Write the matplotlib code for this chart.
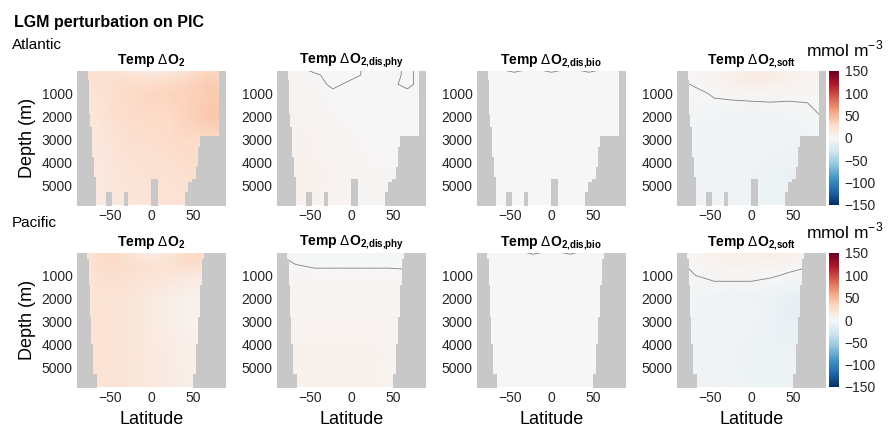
import numpy as np
import matplotlib
matplotlib.use("Agg")
import matplotlib.pyplot as plt

plt.rcParams["font.family"] = ["Liberation Sans", "DejaVu Sans"]
plt.rcParams["mathtext.fontset"] = "custom"
plt.rcParams["mathtext.rm"] = "Liberation Sans"
plt.rcParams["mathtext.bf"] = "Liberation Sans:bold"

# coarse section grid
lats = [-90, -67.5, -45, -22.5, 0, 22.5, 45, 67.5, 90]
depths = [0, 200, 600, 1000, 2000, 3000, 4500, 6000]

# Atlantic, mmol m-3, rows = depths, cols = lats
atl_temp = [[20, 22, 18, 12, 10, 12, 22, 32, 28],
            [20, 24, 24, 20, 18, 22, 28, 35, 32],
            [20, 22, 25, 27, 28, 30, 33, 38, 36],
            [18, 20, 25, 30, 32, 33, 35, 38, 38],
            [16, 18, 24, 28, 30, 30, 34, 40, 42],
            [15, 16, 20, 25, 25, 28, 30, 30, 30],
            [12, 14, 18, 20, 22, 22, 25, 25, 25],
            [12, 12, 15, 18, 20, 20, 20, 20, 20]]
atl_phy = [[3, 2, -1, -2, -1, 1, 2, -1, 2],
           [3, 3, 1, -2, -1, 1, 2, -1, 2],
           [4, 3, 2, -1, 1, 1, 1, -1, 2],
           [4, 4, 2, 1, 1, 1, 1, 1, 2],
           [5, 4, 3, 2, 1, 1, 1, 1, 1],
           [6, 5, 4, 3, 2, 1, 1, 1, 1],
           [6, 6, 5, 4, 3, 2, 2, 1, 1],
           [6, 6, 5, 4, 3, 2, 2, 2, 2]]
atl_bio = [[0, 0.2, -0.2, 0.2, -0.2, 0.2, -0.2, 0.2, -0.2],
           [0.3, 0.3, 0.3, 0.3, 0.3, 0.3, 0.3, 0.3, 0.3],
           [0.3, 0.3, 0.3, 0.3, 0.3, 0.3, 0.3, 0.3, 0.3],
           [0.3, 0.3, 0.3, 0.3, 0.3, 0.3, 0.3, 0.3, 0.3],
           [0.3, 0.3, 0.3, 0.3, 0.3, 0.3, 0.3, 0.3, 0.3],
           [0.3, 0.3, 0.3, 0.3, 0.3, 0.3, 0.3, 0.3, 0.3],
           [0.3, 0.3, 0.3, 0.3, 0.3, 0.3, 0.3, 0.3, 0.3],
           [0.3, 0.3, 0.3, 0.3, 0.3, 0.3, 0.3, 0.3, 0.3]]
atl_soft = [[0, 2, 3, 6, 10, 10, 6, 4, 3],
            [0, 2, 4, 8, 14, 12, 8, 4, 3],
            [-2, 1, 3, 6, 10, 8, 5, 3, 2],
            [-3, -2, 1, 2, 3, 3, 2, 2, 1],
            [-4, -4, -4, -5, -6, -5, -4, -3, 1],
            [-4, -5, -6, -7, -7, -6, -6, -4, -3],
            [-4, -5, -6, -7, -7, -8, -10, -6, -4],
            [-4, -5, -6, -7, -7, -8, -8, -6, -4]]

# Pacific
pac_temp = [[15, 25, 30, 18, 8, 15, 30, 30, 20],
            [15, 25, 30, 22, 15, 20, 30, 28, 20],
            [15, 24, 27, 25, 22, 22, 26, 22, 20],
            [15, 22, 25, 22, 20, 18, 16, 14, 14],
            [15, 20, 20, 18, 14, 10, 6, 5, 5],
            [15, 20, 20, 18, 14, 10, 7, 5, 5],
            [15, 20, 20, 18, 15, 12, 9, 8, 8],
            [15, 20, 20, 18, 15, 12, 10, 8, 8]]
pac_phy = [[1, -2, -3, -3, -3, -3, -3, -2, 1],
           [1, -2, -3, -3, -3, -3, -3, -2, 1],
           [2, 0.5, -0.5, -0.5, -0.5, -0.5, -0.5, -0.5, 1],
           [3, 2, 2, 2, 2, 2, 2, 1, 1],
           [4, 3, 3, 3, 3, 3, 3, 3, 2],
           [5, 4, 4, 4, 4, 4, 4, 3, 3],
           [5, 5, 5, 5, 5, 5, 4, 4, 4],
           [5, 5, 5, 5, 5, 5, 4, 4, 4]]
pac_bio = [[0.3, 0.3, 0.3, -0.2, 0.2, -0.2, 0.3, 0.3, 0.3],
           [0.3, 0.3, 0.3, 0.3, 0.3, 0.3, 0.3, 0.3, 0.3],
           [0.3, 0.3, 0.3, 0.3, 0.3, 0.3, 0.3, 0.3, 0.3],
           [0.3, 0.3, 0.3, 0.3, 0.3, 0.3, 0.3, 0.3, 0.3],
           [0.3, 0.3, 0.3, 0.3, 0.3, 0.3, 0.3, 0.3, 0.3],
           [0.3, 0.3, 0.3, 0.3, 0.3, 0.3, 0.3, 0.3, 0.3],
           [0.3, 0.3, 0.3, 0.3, 0.3, 0.3, 0.3, 0.3, 0.3],
           [0.3, 0.3, 0.3, 0.3, 0.3, 0.3, 0.3, 0.3, 0.3]]
pac_soft = [[2, 3, 5, 7, 10, 10, 7, 5, 3],
            [2, 3, 5, 7, 9, 9, 6, 4, 3],
            [-1, 1, 3, 4, 5, 4, 2, 0.5, 0.5],
            [-3, 0, 2, 2, 2, 1, -1, -3, -3],
            [-4, -5, -6, -6, -6, -8, -12, -14, -10],
            [-4, -5, -6, -7, -7, -9, -12, -12, -10],
            [-4, -5, -6, -7, -8, -8, -9, -9, -8],
            [-4, -5, -6, -7, -8, -8, -8, -8, -8]]

# bathymetry: ocean bottom depth for each latitude band (band starts at edge)
atl_edges = [-90, -77, -76, -74, -72, -70, -67, -54.6, -47.8, -33.8, -28.5,
             -0.8, 8.4, 40.6, 44.6, 48.6, 53.8, 56, 58.7, 81.5, 90]
atl_bottom = [0, 425, 1870, 2450, 3750, 4620, 6000, 5250, 6000, 5250, 6000,
              4700, 6000, 5250, 4850, 4700, 4190, 3300, 2855, 0, 0]
pac_edges = [-90, -78, -76, -74.5, -72.5, -70.5, -66, 50.5, 53.5, 56, 58,
             61.5, 64, 90]
pac_bottom = [0, 265, 1420, 2795, 3950, 5250, 6000, 5250, 3950, 2795, 1420,
              265, 0, 0]

titles = [r"Temp $\Delta$O$_{\mathbf{2}}$",
          r"Temp $\Delta$O$_{\mathbf{2{,}dis{,}phy}}$",
          r"Temp $\Delta$O$_{\mathbf{2{,}dis{,}bio}}$",
          r"Temp $\Delta$O$_{\mathbf{2{,}soft}}$"]

rows = [
    ("Atlantic", [atl_temp, atl_phy, atl_bio, atl_soft], atl_edges, atl_bottom, 71),
    ("Pacific", [pac_temp, pac_phy, pac_bio, pac_soft], pac_edges, pac_bottom, 253),
]

W, H = 890, 430
fig = plt.figure(figsize=(8.9, 4.3), dpi=100)
land = "#c8c8c8"
cmap = plt.get_cmap("RdBu_r")
lefts = [77, 277, 477, 677]
aw, ah = 149, 134

for r, (basin, fields, edges, bottom, top) in enumerate(rows):
    for c, field in enumerate(fields):
        ax = fig.add_axes([lefts[c] / W, 1 - (top + ah) / H, aw / W, ah / H])
        z = np.array(field, dtype=float)
        pm = ax.pcolormesh(lats, depths, z, cmap=cmap, vmin=-150, vmax=150,
                           shading="gouraud", zorder=1)
        ax.contour(lats, depths, z, levels=[0], colors="0.5",
                   linewidths=0.6, zorder=2)
        ax.fill_between(edges, bottom, 6500, step="post", color=land,
                        lw=0, zorder=3)
        ax.set_xlim(-90, 90)
        ax.set_ylim(5830, 25)
        ax.set_xticks([-50, 0, 50])
        ax.set_yticks([1000, 2000, 3000, 4000, 5000])
        ax.tick_params(length=0, labelsize=10, pad=3, colors="#262626")
        for s in ax.spines.values():
            s.set_visible(False)
        ax.set_title(titles[c], fontsize=10, fontweight="bold", pad=5)
        if c == 0:
            ax.set_ylabel("Depth (m)", fontsize=13, labelpad=4)
        if r == 1:
            ax.set_xlabel("Latitude", fontsize=13, labelpad=4)

    cax = fig.add_axes([829 / W, 1 - (top + ah) / H, 10 / W, ah / H])
    cb = fig.colorbar(pm, cax=cax, ticks=[-150, -100, -50, 0, 50, 100, 150])
    cb.outline.set_visible(False)
    cax.tick_params(length=0, labelsize=10, pad=4, colors="#262626")
    fig.text(845 / W, 1 - (top - 22) / H, r"mmol m$^{-3}$", fontsize=12.5,
             ha="center", va="center")
    fig.text(12 / W, 1 - (top - 26 if r == 0 else top - 30) / H, basin,
             fontsize=11, ha="left", va="center")

fig.text(14 / W, 1 - 22 / H, "LGM perturbation on PIC", fontsize=11.5,
         fontweight="bold", ha="left", va="center")

fig.savefig("out.png", dpi=100)
